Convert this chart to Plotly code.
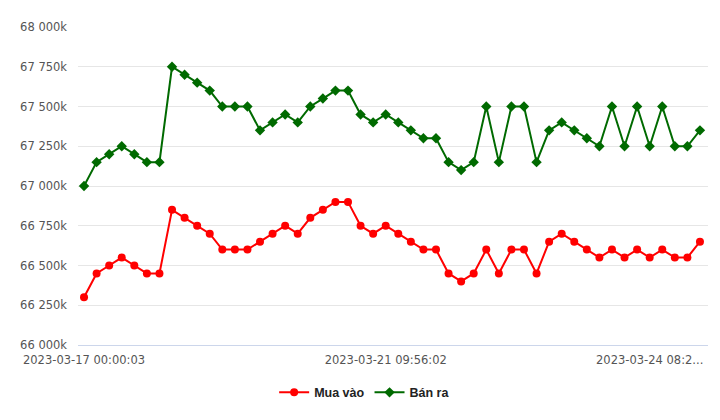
import plotly.graph_objects as go

buy = [66300, 66450, 66500, 66550, 66500, 66450, 66450, 66850, 66800, 66750,
       66700, 66600, 66600, 66600, 66650, 66700, 66750, 66700, 66800, 66850,
       66900, 66900, 66750, 66700, 66750, 66700, 66650, 66600, 66600, 66450,
       66400, 66450, 66600, 66450, 66600, 66600, 66450, 66650, 66700, 66650,
       66600, 66550, 66600, 66550, 66600, 66550, 66600, 66550, 66550, 66650]
sell = [67000, 67150, 67200, 67250, 67200, 67150, 67150, 67750, 67700, 67650,
        67600, 67500, 67500, 67500, 67350, 67400, 67450, 67400, 67500, 67550,
        67600, 67600, 67450, 67400, 67450, 67400, 67350, 67300, 67300, 67150,
        67100, 67150, 67500, 67150, 67500, 67500, 67150, 67350, 67400, 67350,
        67300, 67250, 67500, 67250, 67500, 67250, 67500, 67250, 67250, 67350]
x_idx = list(range(len(buy)))
tick_pos = [0, 24, 45]
tick_labels = ["2023-03-17 00:00:03", "2023-03-21 09:56:02", "2023-03-24 08:2..."]
y_ticks = [66000, 66250, 66500, 66750, 67000, 67250, 67500, 67750, 68000]
y_labels = ["{:,}k".format(v).replace(",", " ") for v in y_ticks]

fig = go.Figure()
fig.add_trace(go.Scatter(x=x_idx, y=buy, name="Mua vào", mode="lines+markers",
                         line=dict(color="#ff0000", width=2),
                         marker=dict(symbol="circle", size=8, color="#ff0000")))
fig.add_trace(go.Scatter(x=x_idx, y=sell, name="Bán ra", mode="lines+markers",
                         line=dict(color="#006a00", width=2),
                         marker=dict(symbol="diamond", size=8, color="#006a00")))

fig.update_layout(
    width=720, height=420,
    margin=dict(l=78, r=12, t=27, b=75, autoexpand=False),
    plot_bgcolor="white", paper_bgcolor="white",
    font=dict(family="DejaVu Sans", size=11.5, color="#333333"),
    showlegend=True,
    legend=dict(orientation="h", x=0.455, xanchor="center",
                y=-0.15, yanchor="middle",
                font=dict(family="Liberation Sans", size=12.5, color="#222222", weight="bold"),
                itemwidth=30),
    xaxis=dict(range=[-0.48, 49.64], tickvals=tick_pos, ticktext=tick_labels,
               tickangle=0,
               showgrid=False, zeroline=False, showline=True, linecolor="#ccd6eb",
               linewidth=1, ticks="outside", ticklen=4, tickcolor="rgba(0,0,0,0)",
               tickfont=dict(color="#555555")),
    yaxis=dict(range=[66000, 68000], tickvals=y_ticks, ticktext=y_labels,
               showgrid=True, gridcolor="#e6e6e6", zeroline=False, showline=False,
               ticks="", ticklabelstandoff=10,
               tickfont=dict(color="#555555", size=11.5)),
)

fig.write_html("out.html")
